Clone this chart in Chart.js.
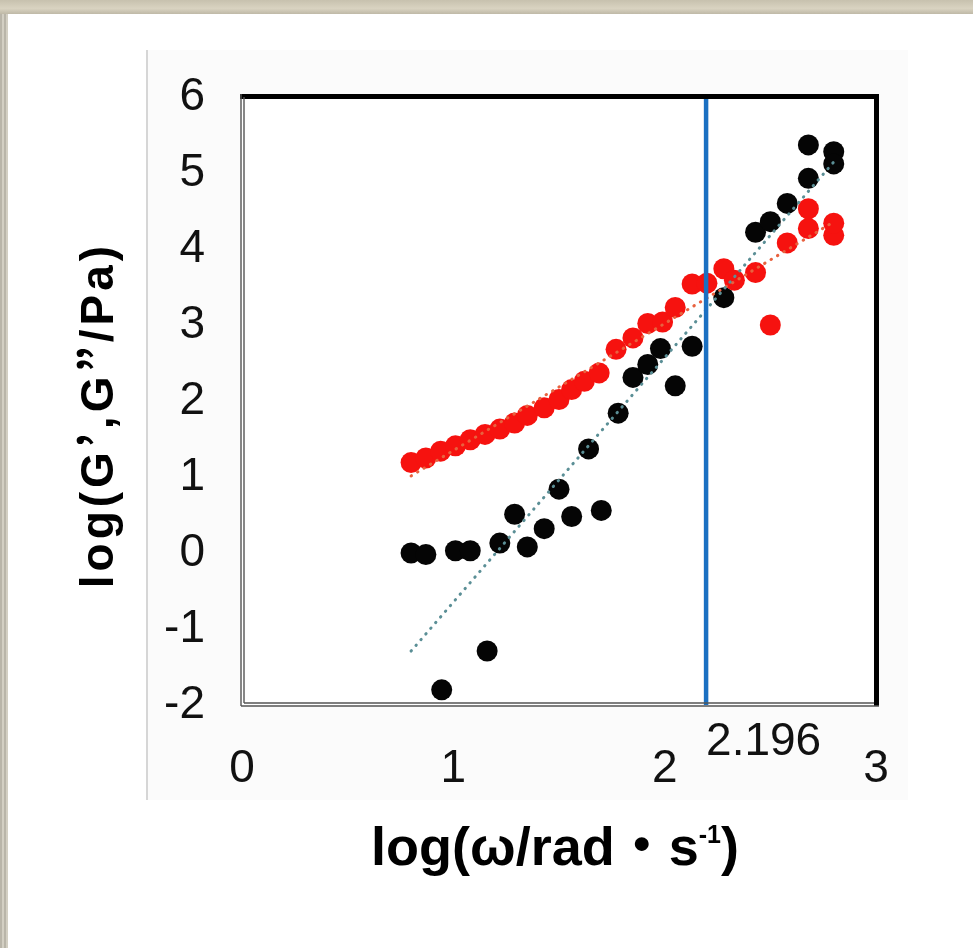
<!DOCTYPE html>
<html>
<head>
<meta charset="utf-8">
<title>G' G'' vs frequency</title>
<script src="https://cdn.jsdelivr.net/npm/chart.js@4.4.1/dist/chart.umd.min.js"></script>
<style>
    html, body { margin: 0; padding: 0; }
    body {
        width: 973px; height: 948px; position: relative; overflow: hidden;
        background: repeating-linear-gradient(90deg, #b9b5a9 0 2px, #d3cfc3 2px 4px);
    }
    #topband {
        position: absolute; left: 0; top: 0; width: 973px; height: 14px;
        background: linear-gradient(180deg, #c7c1ae 0, #d9d3c1 60%, #bfb9a7 100%);
    }
    #sheet { position: absolute; left: 8px; top: 14px; right: 0; bottom: 0; background: #fff; }
    #panel {
        position: absolute; left: 146px; top: 50px; width: 760px; height: 750px;
        background: #fbfbfb; border-left: 2px solid #d6d6d6;
    }
    canvas { position: absolute; left: 0; top: 0; }
</style>
</head>
<body>
<div id="topband"></div>
<div id="sheet"></div>
<div id="panel"></div>
<canvas id="rheo" width="973" height="948"></canvas>
<script>
// storage modulus G' (log values)
var gpX = [0.80, 0.87, 0.945, 1.01, 1.08, 1.16, 1.22, 1.29, 1.35, 1.43, 1.50, 1.56, 1.64, 1.70,
           1.78, 1.85, 1.92, 1.98, 2.05, 2.13, 2.28, 2.43, 2.50, 2.58, 2.68, 2.68, 2.80, 2.80];
var gpY = [0.00, -0.02, -1.80, 0.03, 0.03, -1.29, 0.13, 0.51, 0.08, 0.32, 0.84, 0.48, 1.37, 0.56,
           1.84, 2.31, 2.48, 2.69, 2.20, 2.72, 3.36, 4.22, 4.36, 4.60, 4.93, 5.37, 5.28, 5.12];

// loss modulus G'' (log values)
var gppX = [0.80, 0.87, 0.94, 1.01, 1.08, 1.15, 1.22, 1.29, 1.35, 1.43, 1.50, 1.56, 1.62, 1.69, 1.77,
            1.85, 1.92, 1.99, 2.05, 2.13, 2.20, 2.28, 2.33, 2.43, 2.50, 2.58, 2.68, 2.68, 2.80, 2.80];
var gppY = [1.19, 1.25, 1.34, 1.41, 1.49, 1.56, 1.63, 1.71, 1.81, 1.91, 2.02, 2.15, 2.26, 2.37, 2.68,
            2.83, 3.02, 3.04, 3.23, 3.54, 3.55, 3.74, 3.59, 3.69, 3.00, 4.08, 4.27, 4.53, 4.18, 4.34];

var xTicks = [0, 1, 2, 3];
var xTickLabels = ["0", "1", "2", "3"];
var yTicks = [-2, -1, 0, 1, 2, 3, 4, 5, 6];
var yTickLabels = ["-2", "-1", "0", "1", "2", "3", "4", "5", "6"];

var crossX = 2.196;
var crossLabel = "2.196";

var LATIN = '"Liberation Sans", Arial, sans-serif';
var CJK = '"Noto Sans CJK JP", "Liberation Sans", sans-serif';

function toPoints(xs, ys) {
    var pts = [];
    for (var i = 0; i < xs.length; i++) {
        pts.push({ x: xs[i], y: ys[i] });
    }
    return pts;
}

// least squares line over the x range of the data
function trend(xs, ys) {
    var n = xs.length, sx = 0, sy = 0, sxx = 0, sxy = 0;
    for (var i = 0; i < n; i++) {
        sx += xs[i]; sy += ys[i];
        sxx += xs[i] * xs[i]; sxy += xs[i] * ys[i];
    }
    var b = (n * sxy - sx * sy) / (n * sxx - sx * sx);
    var a = (sy - b * sx) / n;
    var lo = Math.min.apply(null, xs), hi = Math.max.apply(null, xs);
    return [{ x: lo, y: a + b * lo }, { x: hi, y: a + b * hi }];
}

// draw a row of text pieces, each with its own font and baseline shift
function drawRuns(ctx, runs, cx, baseY) {
    var total = 0;
    runs.forEach(function (r) {
        ctx.font = r.font;
        r.w = ctx.measureText(r.t).width;
        total += r.w;
    });
    var x = cx - total / 2;
    runs.forEach(function (r) {
        ctx.font = r.font;
        ctx.fillText(r.t, x, baseY - (r.rise || 0));
        x += r.w;
    });
}

var decorations = {
    id: 'decorations',
    beforeDraw: function (chart) {
        var ctx = chart.ctx, a = chart.chartArea;
        ctx.save();
        ctx.fillStyle = '#ffffff';
        ctx.fillRect(a.left, a.top, a.right - a.left, a.bottom - a.top);
        ctx.restore();
    },
    afterDatasetsDraw: function (chart) {
        var ctx = chart.ctx, a = chart.chartArea;
        var cx = chart.scales.x.getPixelForValue(crossX);
        ctx.save();
        // crossover marker
        ctx.strokeStyle = '#1b70c2';
        ctx.lineWidth = 4.5;
        ctx.beginPath();
        ctx.moveTo(cx, a.top);
        ctx.lineTo(cx, a.bottom);
        ctx.stroke();

        // plot frame: heavy top/right, thin double left/bottom
        ctx.fillStyle = '#000';
        ctx.fillRect(a.left - 2, a.top - 3, a.right - a.left + 5, 5);
        ctx.fillRect(a.right - 2, a.top - 3, 5, a.bottom - a.top + 4);
        ctx.strokeStyle = '#555';
        ctx.lineWidth = 1.4;
        ctx.beginPath();
        ctx.moveTo(a.left - 1, a.top - 3); ctx.lineTo(a.left - 1, a.bottom + 1);
        ctx.moveTo(a.left + 2, a.top); ctx.lineTo(a.left + 2, a.bottom - 2);
        ctx.moveTo(a.left - 1, a.bottom + 1); ctx.lineTo(a.right + 3, a.bottom + 1);
        ctx.moveTo(a.left + 2, a.bottom - 2); ctx.lineTo(a.right - 2, a.bottom - 2);
        ctx.stroke();
        ctx.restore();
    },
    afterDraw: function (chart) {
        var ctx = chart.ctx;
        var cx = chart.scales.x.getPixelForValue(crossX);
        ctx.save();
        ctx.fillStyle = '#111';
        ctx.textBaseline = 'alphabetic';
        ctx.textAlign = 'left';
        ctx.font = '46px ' + LATIN;
        ctx.fillText(crossLabel, cx, 755);

        // x axis title
        ctx.fillStyle = '#000';
        drawRuns(ctx, [
            { t: 'log(\u03c9/rad', font: 'bold 54px ' + LATIN },
            { t: '\u30fb', font: 'bold 54px ' + CJK },
            { t: 's', font: 'bold 54px ' + LATIN },
            { t: '-1', font: 'bold 25px ' + LATIN, rise: 22 },
            { t: ')', font: 'bold 54px ' + LATIN }
        ], 555, 865);

        // y axis title, a little more tracking than the x title
        ctx.translate(113, 415);
        ctx.rotate(-Math.PI / 2);
        ctx.letterSpacing = '4px';
        drawRuns(ctx, [
            { t: 'log(G', font: 'bold 46px ' + LATIN },
            { t: '\u2019', font: 'bold 46px ' + CJK },
            { t: ',G', font: 'bold 46px ' + LATIN },
            { t: '\u201d', font: 'bold 46px ' + CJK },
            { t: '/Pa)', font: 'bold 46px ' + LATIN }
        ], 0, 0);
        ctx.restore();
    }
};

new Chart(document.getElementById('rheo'), {
    type: 'scatter',
    data: {
        datasets: [{
            label: "G' trend",
            data: trend(gpX, gpY),
            showLine: true,
            borderColor: '#5b8f96',
            borderWidth: 3,
            borderDash: [0.5, 7],
            borderCapStyle: 'round',
            pointRadius: 0,
            order: 0
        }, {
            label: "G'' trend",
            data: trend(gppX, gppY),
            showLine: true,
            borderColor: '#e8623f',
            borderWidth: 3,
            borderDash: [0.5, 7],
            borderCapStyle: 'round',
            pointRadius: 0,
            order: 0
        }, {
            label: "G''",
            data: toPoints(gppX, gppY),
            backgroundColor: '#f6120f',
            borderWidth: 0,
            pointRadius: 10.5,
            order: 1
        }, {
            label: "G'",
            data: toPoints(gpX, gpY),
            backgroundColor: '#050505',
            borderWidth: 0,
            pointRadius: 10.5,
            order: 2
        }]
    },
    options: {
        responsive: false,
        animation: false,
        layout: { padding: { left: 0, top: 97, right: 97, bottom: 0 } },
        plugins: {
            legend: { display: false },
            tooltip: { enabled: false }
        },
        scales: {
            x: {
                type: 'linear',
                min: 0, max: 3,
                grid: { display: false, drawTicks: false },
                border: { display: false },
                afterBuildTicks: function (s) {
                    s.ticks = xTicks.map(function (v) { return { value: v }; });
                },
                afterFit: function (s) { s.height = 948 - 705; },
                ticks: {
                    padding: 37,
                    color: '#111',
                    font: { family: LATIN, size: 46 },
                    callback: function (v) { return xTickLabels[xTicks.indexOf(v)]; }
                }
            },
            y: {
                type: 'linear',
                min: -2, max: 6,
                grid: { display: false, drawTicks: false },
                border: { display: false },
                afterBuildTicks: function (s) {
                    s.ticks = yTicks.map(function (v) { return { value: v }; });
                },
                afterFit: function (s) { s.width = 242; },
                ticks: {
                    padding: 37,
                    color: '#111',
                    font: { family: LATIN, size: 46 },
                    callback: function (v) { return yTickLabels[yTicks.indexOf(v)]; }
                }
            }
        }
    },
    plugins: [decorations]
});
</script>
</body>
</html>
